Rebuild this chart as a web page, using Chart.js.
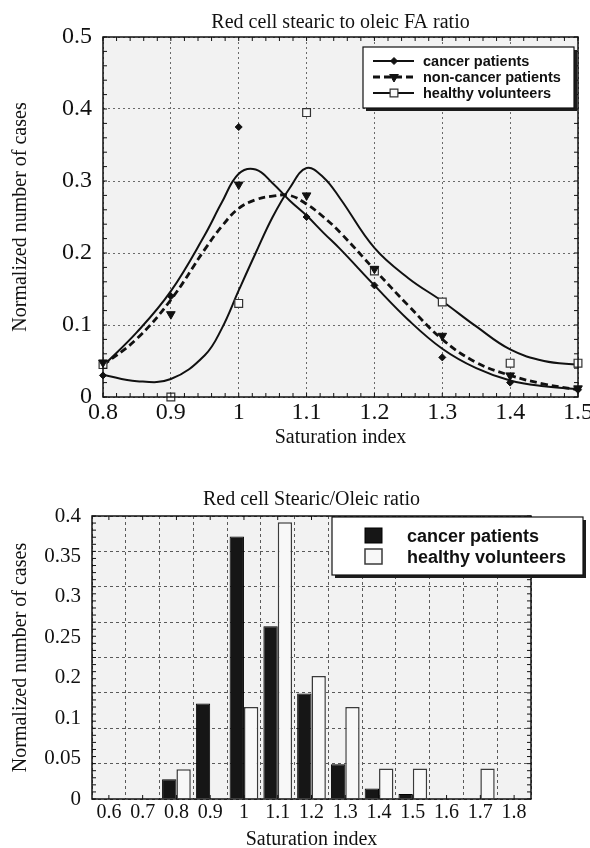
<!DOCTYPE html>
<html>
<head>
<meta charset="utf-8">
<title>Red cell stearic to oleic FA ratio</title>
<script src="https://cdn.jsdelivr.net/npm/chart.js@4.4.1/dist/chart.umd.min.js"></script>
<style>
  body { margin: 0; background: #fff; width: 590px; height: 848px; overflow: hidden; position: relative; }
  canvas { position: absolute; left: 0; }
  #fitChart { top: 0; }
  #histChart { top: 450px; }
</style>
</head>
<body>
<canvas id="fitChart" width="590" height="450"></canvas>
<canvas id="histChart" width="590" height="402"></canvas>
<script>
// ---- top panel: fitted curves ----
const fitX = [0.8, 0.85, 0.9, 0.95, 0.975, 1.0, 1.025, 1.05, 1.075, 1.1, 1.125, 1.15, 1.2, 1.25, 1.3, 1.35, 1.4, 1.45, 1.5];
const cancerFit    = [0.043, 0.09, 0.147, 0.225, 0.27, 0.31, 0.316, 0.297, 0.273, 0.252, 0.228, 0.205, 0.155, 0.107, 0.067, 0.04, 0.023, 0.015, 0.011];
const nonCancerFit = [0.044, 0.081, 0.135, 0.205, 0.237, 0.262, 0.274, 0.279, 0.28, 0.268, 0.25, 0.228, 0.177, 0.127, 0.08, 0.048, 0.03, 0.018, 0.01];
const healthyFit   = [0.031, 0.022, 0.025, 0.058, 0.095, 0.148, 0.2, 0.25, 0.29, 0.318, 0.305, 0.275, 0.207, 0.165, 0.133, 0.098, 0.066, 0.05, 0.045];

// measured points
const pointX = [0.8, 0.9, 1.0, 1.1, 1.2, 1.3, 1.4, 1.5];
const cancerPts    = [0.03, 0.14, 0.375, 0.25, 0.155, 0.055, 0.02, 0.01];
const nonCancerPts = [0.048, 0.115, 0.295, 0.28, 0.178, 0.085, 0.03, 0.012];
const healthyPts   = [0.045, 0, 0.13, 0.395, 0.175, 0.132, 0.047, 0.047];

// ---- bottom panel: histogram ----
const histBins = ["0.6", "0.7", "0.8", "0.9", "1", "1.1", "1.2", "1.3", "1.4", "1.5", "1.6", "1.7", "1.8"];
const cancerHist  = [0, 0, 0.028, 0.135, 0.371, 0.244, 0.149, 0.049, 0.015, 0.007, 0, 0, 0];
const healthyHist = [0, 0, 0.042, 0, 0.13, 0.391, 0.174, 0.13, 0.043, 0.043, 0, 0.043, 0];
// y labels as printed (top to bottom)
const histYLabels = ["0.4", "0.35", "0.3", "0.25", "0.2", "0.1", "0.05", "0"];

const SERIF = "'Liberation Serif', 'Times New Roman', serif";
const SANS = "'Liberation Sans', Arial, sans-serif";
const INK = "#111";

function xy(xs, ys) {
  return xs.map((x, i) => ({ x: x, y: ys[i] }));
}

function tickText(v) {
  return String(Math.round(v * 100) / 100);
}

function drawMarker(ctx, m, x, y) {
  const r = m.radius;
  ctx.beginPath();
  if (m.style === "rectRot") {
    ctx.moveTo(x, y - r); ctx.lineTo(x + r, y); ctx.lineTo(x, y + r); ctx.lineTo(x - r, y);
  } else if (m.style === "triangleDown") {
    const dx = r * Math.sin(Math.PI / 3), dy = r * 0.5;
    ctx.moveTo(x, y + r); ctx.lineTo(x + dx, y - dy); ctx.lineTo(x - dx, y - dy);
  } else {
    const s = r * Math.SQRT1_2;
    ctx.rect(x - s, y - s, 2 * s, 2 * s);
  }
  ctx.closePath();
  ctx.fillStyle = m.fill;
  ctx.strokeStyle = m.stroke;
  ctx.lineWidth = m.lineWidth;
  ctx.fill();
  ctx.stroke();
}

function tickPixels(scale, step) {
  if (!step) return scale.ticks.map((t, i) => scale.getPixelForTick(i));
  const out = [];
  for (let v = scale.min; v <= scale.max + step / 2; v += step) out.push(scale.getPixelForValue(v));
  return out;
}

// plot background, box and inward minor ticks
function framePlugin(cfg) {
  return {
    id: "frame",
    beforeDraw(chart) {
      const a = chart.chartArea, ctx = chart.ctx;
      ctx.save();
      ctx.fillStyle = "#f2f2f2";
      ctx.fillRect(a.left, a.top, a.right - a.left, a.bottom - a.top);
      ctx.restore();
    },
    afterDatasetsDraw(chart) {
      const a = chart.chartArea, ctx = chart.ctx;
      ctx.save();
      ctx.strokeStyle = INK;
      ctx.lineWidth = 1;
      ctx.beginPath();
      tickPixels(chart.scales.x, cfg.xStep).forEach(px => {
        ctx.moveTo(px, a.bottom); ctx.lineTo(px, a.bottom - cfg.len);
        ctx.moveTo(px, a.top); ctx.lineTo(px, a.top + cfg.len);
      });
      tickPixels(chart.scales.y, cfg.yStep).forEach(py => {
        ctx.moveTo(a.left, py); ctx.lineTo(a.left + cfg.len, py);
        ctx.moveTo(a.right, py); ctx.lineTo(a.right - cfg.len, py);
      });
      ctx.stroke();
      ctx.lineWidth = 1.5;
      ctx.strokeRect(a.left, a.top, a.right - a.left, a.bottom - a.top);
      ctx.restore();
    }
  };
}

// boxed legend with drop shadow
function legendPlugin(cfg) {
  return {
    id: "boxLegend",
    afterDraw(chart) {
      const ctx = chart.ctx, a = chart.chartArea;
      const x0 = a.right + cfg.right - cfg.width, y0 = a.top + cfg.top;
      ctx.save();
      ctx.fillStyle = "#1c1c1c";
      ctx.fillRect(x0 + 3, y0 + 3, cfg.width, cfg.height);
      ctx.fillStyle = "#fff";
      ctx.fillRect(x0, y0, cfg.width, cfg.height);
      ctx.strokeStyle = INK;
      ctx.lineWidth = 1.2;
      ctx.strokeRect(x0, y0, cfg.width, cfg.height);
      cfg.items.forEach((it, i) => {
        const cy = y0 + cfg.firstRow + i * cfg.rowGap;
        if (it.line) {
          ctx.save();
          ctx.strokeStyle = it.line.borderColor;
          ctx.lineWidth = it.line.borderWidth;
          ctx.setLineDash(it.line.borderDash || []);
          ctx.beginPath();
          ctx.moveTo(x0 + cfg.sampleX[0], cy);
          ctx.lineTo(x0 + cfg.sampleX[1], cy);
          ctx.stroke();
          ctx.restore();
        }
        if (it.marker) {
          drawMarker(ctx, it.marker, x0 + cfg.markerX, cy);
        }
        if (it.bar) {
          ctx.fillStyle = it.bar.backgroundColor;
          ctx.strokeStyle = it.bar.borderColor;
          ctx.lineWidth = it.bar.borderWidth;
          ctx.fillRect(x0 + cfg.swatch[0], cy - cfg.swatch[1] / 2 - 0.5, 17, cfg.swatch[1]);
          ctx.strokeRect(x0 + cfg.swatch[0], cy - cfg.swatch[1] / 2 - 0.5, 17, cfg.swatch[1]);
        }
        ctx.fillStyle = INK;
        ctx.font = cfg.font;
        ctx.textBaseline = "middle";
        ctx.textAlign = "left";
        ctx.fillText(it.label, x0 + cfg.textX, cy + 1);
      });
      ctx.restore();
    }
  };
}

// ---------------- top chart ----------------
const markCancer    = { style: "rectRot", radius: 3.5, fill: INK, stroke: INK, lineWidth: 1 };
const markNonCancer = { style: "triangleDown", radius: 5, fill: INK, stroke: INK, lineWidth: 1 };
const markHealthy   = { style: "rect", radius: 5.5, fill: "#fafafa", stroke: "#333", lineWidth: 1.2 };

function pointSet(label, ys, mark) {
  return {
    label: label,
    data: xy(pointX, ys),
    showLine: false,
    clip: false,
    pointStyle: mark.style === "triangleDown" ? "triangle" : mark.style,
    pointRotation: mark.style === "triangleDown" ? 180 : 0,
    pointRadius: mark.radius,
    pointBackgroundColor: mark.fill,
    pointBorderColor: mark.stroke,
    pointBorderWidth: mark.lineWidth
  };
}

function curveSet(label, ys, dash, width) {
  return {
    label: label,
    data: xy(fitX, ys),
    borderColor: INK,
    borderWidth: width,
    borderDash: dash,
    pointRadius: 0,
    fill: false,
    tension: 0.4
  };
}

const cancerCurve = curveSet("cancer patients", cancerFit, [], 2);
const nonCancerCurve = curveSet("non-cancer patients", nonCancerFit, [7, 4], 2.8);
const healthyCurve = curveSet("healthy volunteers", healthyFit, [], 2);

new Chart(document.getElementById("fitChart"), {
  type: "line",
  data: {
    datasets: [
      pointSet("cancer patients", cancerPts, markCancer),
      pointSet("non-cancer patients", nonCancerPts, markNonCancer),
      pointSet("healthy volunteers", healthyPts, markHealthy),
      cancerCurve, nonCancerCurve, healthyCurve
    ]
  },
  options: {
    responsive: false,
    devicePixelRatio: 1,
    animation: false,
    layout: { padding: { left: 0, right: 12, top: 0, bottom: 0 } },
    plugins: {
      legend: { display: false },
      tooltip: { enabled: false },
      title: {
        display: true,
        text: "Red cell stearic to oleic FA ratio",
        color: INK,
        fullSize: false,
        font: { family: SERIF, size: 20, weight: "normal" },
        padding: { top: 11, bottom: 2 }
      }
    },
    scales: {
      x: {
        type: "linear",
        min: 0.8,
        max: 1.5,
        ticks: { stepSize: 0.1, callback: tickText, color: INK, font: { family: SERIF, size: 24 }, padding: 1, maxRotation: 0 },
        grid: { color: "#6a6a6a", lineWidth: 1, drawTicks: false },
        border: { display: false, dash: [2, 3] },
        title: { display: true, text: "Saturation index", color: INK, font: { family: SERIF, size: 20 }, padding: { top: 0, bottom: 0 } },
        afterFit(s) { s.height = 53; s.paddingLeft = 0; s.paddingRight = 0; }
      },
      y: {
        min: 0,
        max: 0.5,
        ticks: { stepSize: 0.1, callback: tickText, color: INK, font: { family: SERIF, size: 24 }, padding: 11 },
        grid: { color: "#6a6a6a", lineWidth: 1, drawTicks: false },
        border: { display: false, dash: [2, 3] },
        title: { display: true, text: "Normalized number of cases", color: INK, font: { family: SERIF, size: 20 }, padding: { top: 9, bottom: 0 } },
        afterFit(s) { s.width = 103; s.paddingTop = 0; s.paddingBottom = 0; }
      }
    }
  },
  plugins: [
    framePlugin({ xStep: 0.02, yStep: 0.02, len: 4 }),
    legendPlugin({
      right: -4, top: 10, width: 211, height: 61,
      firstRow: 14, rowGap: 16,
      sampleX: [10, 51], markerX: 31, textX: 60,
      font: "bold 14.5px " + SANS,
      items: [
        { label: cancerCurve.label, line: cancerCurve, marker: markCancer },
        { label: nonCancerCurve.label, line: nonCancerCurve, marker: markNonCancer },
        { label: healthyCurve.label, line: healthyCurve, marker: markHealthy }
      ]
    })
  ]
});

// ---------------- bottom chart ----------------
const cancerBars = {
  label: "cancer patients",
  data: cancerHist,
  backgroundColor: "#161616",
  borderColor: "#000",
  borderWidth: 1,
  barPercentage: 1.0,
  categoryPercentage: 0.85
};
const healthyBars = {
  label: "healthy volunteers",
  data: healthyHist,
  backgroundColor: "#f8f8f8",
  borderColor: "#3a3a3a",
  borderWidth: 1.5,
  barPercentage: 1.0,
  categoryPercentage: 0.85
};

new Chart(document.getElementById("histChart"), {
  type: "bar",
  data: { labels: histBins, datasets: [cancerBars, healthyBars] },
  options: {
    responsive: false,
    devicePixelRatio: 1,
    animation: false,
    layout: { padding: { left: 0, right: 59, top: 0, bottom: 0 } },
    plugins: {
      legend: { display: false },
      tooltip: { enabled: false },
      title: {
        display: true,
        text: "Red cell Stearic/Oleic ratio",
        color: INK,
        fullSize: false,
        font: { family: SERIF, size: 20, weight: "normal" },
        padding: { top: 38, bottom: 4 }
      }
    },
    scales: {
      x: {
        type: "category",
        offset: true,
        ticks: { color: INK, font: { family: SERIF, size: 20 }, padding: 2, maxRotation: 0, minRotation: 0, autoSkip: false },
        grid: { offset: true, color: "#5a5a5a", lineWidth: 1, drawTicks: false },
        border: { display: false, dash: [3, 3] },
        title: { display: true, text: "Saturation index", color: INK, font: { family: SERIF, size: 20 }, padding: { top: 0, bottom: 0 } },
        afterFit(s) { s.height = 53; s.paddingLeft = 0; s.paddingRight = 0; }
      },
      y: {
        min: 0,
        max: 0.4,
        weight: 0,
        ticks: { stepSize: 0.05, display: false },
        grid: { color: "#5a5a5a", lineWidth: 1, drawTicks: false },
        border: { display: false, dash: [3, 3] },
        afterFit(s) { s.width = 0; s.paddingTop = 0; s.paddingBottom = 0; }
      },
      yl: {
        type: "category",
        position: "left",
        weight: 1,
        labels: histYLabels,
        offset: false,
        ticks: { color: INK, font: { family: SERIF, size: 21 }, padding: 11, autoSkip: false },
        grid: { display: false, drawTicks: false },
        border: { display: false },
        title: { display: true, text: "Normalized number of cases", color: INK, font: { family: SERIF, size: 20 }, padding: { top: 9, bottom: 0 } },
        afterFit(s) { s.width = 92; s.paddingTop = 0; s.paddingBottom = 0; }
      }
    }
  },
  plugins: [
    framePlugin({ xStep: 0, yStep: 0.01, len: 4 }),
    legendPlugin({
      right: 52, top: 1, width: 251, height: 58,
      firstRow: 19, rowGap: 21,
      swatch: [33, 15], textX: 75,
      font: "bold 18px " + SANS,
      items: [
        { label: cancerBars.label, bar: cancerBars },
        { label: healthyBars.label, bar: healthyBars }
      ]
    })
  ]
});
</script>
</body>
</html>
